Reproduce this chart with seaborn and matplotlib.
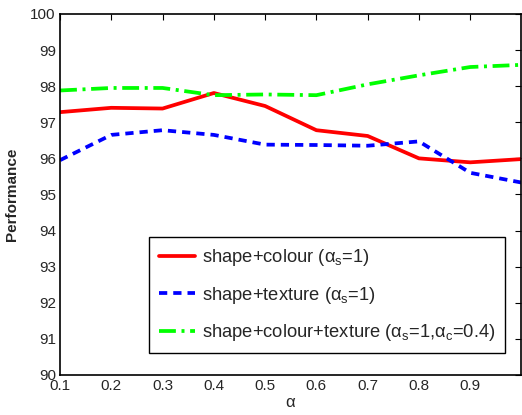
import numpy as np
import pandas as pd
import matplotlib
matplotlib.use("Agg")
import matplotlib.pyplot as plt
import seaborn as sns

# values
alpha = [0.1, 0.2, 0.3, 0.4, 0.5, 0.6, 0.7, 0.8, 0.9, 1.0]
shape_colour = [97.28, 97.40, 97.38, 97.81, 97.45, 96.78, 96.62, 96.00, 95.89, 95.98]
shape_texture = [95.95, 96.65, 96.78, 96.65, 96.38, 96.37, 96.35, 96.47, 95.60, 95.33]
shape_colour_texture = [97.88, 97.95, 97.95, 97.75, 97.77, 97.75, 98.05, 98.30, 98.53, 98.59]

labels = [r"shape+colour ($\alpha_\mathrm{s}$=1)",
          r"shape+texture ($\alpha_\mathrm{s}$=1)",
          r"shape+colour+texture ($\alpha_\mathrm{s}$=1,$\alpha_\mathrm{c}$=0.4)"]

sns.set_style("white")
plt.rcParams["font.family"] = ["Liberation Sans", "DejaVu Sans"]
plt.rcParams["mathtext.fontset"] = "custom"
plt.rcParams["mathtext.rm"] = "Liberation Sans"
plt.rcParams["mathtext.it"] = "Liberation Sans"
plt.rcParams["xtick.direction"] = "in"
plt.rcParams["ytick.direction"] = "in"

fig = plt.figure(figsize=(5.22, 4.15), dpi=100)
ax = fig.add_axes([0.115, 0.0964, 0.884, 0.87])

sns.lineplot(x=alpha, y=shape_colour, color="#ff0000", lw=2.7, label=labels[0], ax=ax)
sns.lineplot(x=alpha, y=shape_texture, color="#0000ff", lw=2.7, label=labels[1], ax=ax)
sns.lineplot(x=alpha, y=shape_colour_texture, color="#00ff00", lw=2.7, label=labels[2], ax=ax)
ax.lines[1].set_dashes([2.2, 1.6])
ax.lines[2].set_dashes([4.5, 1.5, 0.8, 1.5])

ax.set_xlim(0.1, 1.0)
ax.set_ylim(90, 100)
ax.set_xticks([0.1, 0.2, 0.3, 0.4, 0.5, 0.6, 0.7, 0.8, 0.9])
ax.set_yticks(range(90, 101))
ax.tick_params(axis="both", which="both", top=True, right=True, length=4,
               width=0.8, labelsize=11, color="black", pad=3)
for sp in ax.spines.values():
    sp.set_color("black")
    sp.set_linewidth(1.2)

ax.set_xlabel(r"$\alpha$", fontsize=12, labelpad=1)
ax.set_ylabel("Performance", fontsize=11, fontweight="bold", labelpad=8)

leg = ax.legend(loc="lower right", bbox_to_anchor=(0.985, 0.035), fontsize=13.2,
                frameon=True, fancybox=False, edgecolor="black", framealpha=1,
                handlelength=2.0, labelspacing=0.9, borderpad=0.55, handletextpad=0.35)
leg.get_frame().set_linewidth(1.0)

fig.savefig("out.png", dpi=100)
